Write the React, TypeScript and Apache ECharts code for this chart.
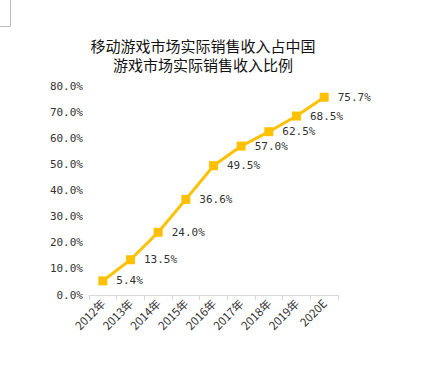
import React, { useEffect, useRef } from "react";
import * as echarts from "echarts";

const categories = ["2012年", "2013年", "2014年", "2015年", "2016年", "2017年", "2018年", "2019年", "2020E"];
const shareValues = [5.4, 13.5, 24.0, 36.6, 49.5, 57.0, 62.5, 68.5, 75.7];
const titleLines = ["移动游戏市场实际销售收入占中国", "游戏市场实际销售收入比例"];

export default function App() {
  const ref = useRef<HTMLDivElement>(null);
  useEffect(() => {
    if (!ref.current) return;
    const chart = echarts.init(ref.current, undefined, { renderer: "svg" });
    const mono = "'DejaVu Sans Mono', monospace";
    const titleStyle = {
      fontFamily: "'Noto Sans CJK SC', sans-serif",
      fontSize: 15,
      fontWeight: "normal",
      color: "#111",
      lineHeight: 15,
    };
    chart.setOption({
      animation: false,
      backgroundColor: "#ffffff",
      title: titleLines.map((t, i) => ({
        text: t,
        left: 203,
        textAlign: "center",
        top: 38 + i * 19,
        padding: 0,
        textStyle: titleStyle,
      })),
      graphic: [
        { type: "line", shape: { x1: 10.5, y1: 0, x2: 10.5, y2: 26.5 }, style: { stroke: "#bdbdbd", lineWidth: 1 } },
        { type: "line", shape: { x1: 0, y1: 26.5, x2: 10.5, y2: 26.5 }, style: { stroke: "#bdbdbd", lineWidth: 1 } },
      ],
      grid: { left: 89, right: 91, top: 86, bottom: 72 },
      xAxis: {
        type: "category",
        data: categories,
        boundaryGap: true,
        axisLine: { lineStyle: { color: "#d9d9d9" } },
        axisTick: { show: true, length: 5, lineStyle: { color: "#d9d9d9" } },
        axisLabel: {
          rotate: 45,
          fontSize: 11.5,
          color: "#333",
          fontFamily: "'Noto Sans CJK SC', sans-serif",
          margin: 6,
        },
      },
      yAxis: {
        type: "value",
        min: 0,
        max: 80,
        interval: 10,
        axisLine: { show: false },
        axisTick: { show: false },
        splitLine: { show: false },
        axisLabel: {
          formatter: (v: number) => v.toFixed(1) + "%",
          fontSize: 11,
          color: "#333",
          fontFamily: mono,
          margin: 6,
        },
      },
      series: [
        {
          type: "line",
          data: shareValues,
          symbol: "rect",
          symbolSize: 9,
          lineStyle: { color: "#FFC000", width: 3 },
          itemStyle: { color: "#FFC000" },
          label: {
            show: true,
            position: "right",
            distance: 9,
            formatter: (p: any) => p.value.toFixed(1) + "%",
            fontSize: 11,
            color: "#333",
            fontFamily: mono,
          },
        },
      ],
    });
    return () => chart.dispose();
  }, []);
  return <div ref={ref} style={{ position: "fixed", left: 0, top: 0, width: 429, height: 367 }} />;
}
